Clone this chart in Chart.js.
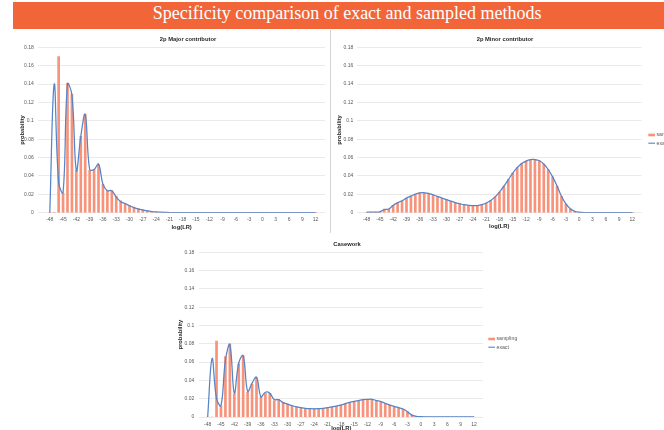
<!DOCTYPE html>
<html>
<head>
<meta charset="utf-8">
<script src="https://cdn.jsdelivr.net/npm/chart.js@4.4.1/dist/chart.umd.min.js"></script>
<style>
  html, body { margin: 0; padding: 0; width: 664px; height: 430px; overflow: hidden; background: #fff; }
  #banner { position: absolute; left: 13px; top: 2px; width: 651px; height: 27px; background: #f26538; }
  #bannerText { position: absolute; left: 152.7px; top: 3px; font-family: "Liberation Serif", "Times New Roman", serif; font-size: 18px; color: #fff; white-space: nowrap; line-height: normal; }
  #sep { position: absolute; left: 330px; top: 30px; width: 1px; height: 203px; background: #d4d4d4; }
  canvas { position: absolute; }
</style>
</head>
<body>
<div id="banner"></div>
<div id="bannerText">Specificity comparison of exact and sampled methods</div>
<div id="sep"></div>
<canvas id="c1" width="331" height="205" style="left:0px;top:30px;width:331px;height:205px"></canvas>
<canvas id="c2" width="333" height="205" style="left:331px;top:30px;width:333px;height:205px"></canvas>
<canvas id="c3" width="380" height="205" style="left:160px;top:235px;width:380px;height:205px"></canvas>
<script>
// ---------------- DATA ----------------
const logLR = [-48,-47,-46,-45,-44,-43,-42,-41,-40,-39,-38,-37,-36,-35,-34,-33,-32,-31,-30,-29,-28,-27,-26,-25,-24,-23,-22,-21,-20,-19,-18,-17,-16,-15,-14,-13,-12,-11,-10,-9,-8,-7,-6,-5,-4,-3,-2,-1,0,1,2,3,4,5,6,7,8,9,10,11,12];
const xTickValues = [-48,-45,-42,-39,-36,-33,-30,-27,-24,-21,-18,-15,-12,-9,-6,-3,0,3,6,9,12];
const yTickValues = [0,0.02,0.04,0.06,0.08,0.1,0.12,0.14,0.16,0.18];
const seriesNames = ['sampling', 'exact'];
const chartTitles = ['2p Major contributor', '2p Minor contributor', 'Casework'];

const majorSampling = [
  0, 0, 0.170, 0.021, 0.141, 0.129, 0.046, 0.083, 0.107, 0.046,
  0.047, 0.052, 0.031, 0.024, 0.024, 0.018, 0.013, 0.010, 0.008, 0.006,
  0.0045, 0.003, 0.002, 0.0013, 0.0008, 0.0005, 0.0003, 0.0002, 0.0001, 0,
  0, 0, 0, 0, 0, 0, 0, 0, 0, 0,
  0, 0, 0, 0, 0, 0, 0, 0, 0, 0,
  0, 0, 0, 0, 0, 0, 0, 0, 0, 0, 0];
const majorExact = [
  0, 0.140, 0.033, 0.022, 0.140, 0.128, 0.046, 0.083, 0.107, 0.047,
  0.047, 0.053, 0.031, 0.024, 0.024, 0.017, 0.012, 0.010, 0.0075, 0.0055,
  0.004, 0.003, 0.002, 0.0012, 0.0008, 0.0005, 0.0003, 0.0002, 0.0001, 0.0001,
  0.0001, 0.0001, 0.0001, 0, 0, 0, 0, 0, 0, 0,
  0, 0, 0, 0, 0, 0, 0, 0, 0, 0,
  0, 0, 0, 0, 0, 0, 0, 0, 0, 0, 0];

const minorSampling = [
  0, 0, 0, 0.001, 0.004, 0.004, 0.008, 0.011, 0.013, 0.016,
  0.018, 0.020, 0.0215, 0.0216, 0.021, 0.0195, 0.0178, 0.016, 0.0142, 0.0127,
  0.011, 0.0098, 0.0088, 0.008, 0.0077, 0.0078, 0.0088, 0.0105, 0.0131, 0.0172,
  0.0224, 0.029, 0.036, 0.0432, 0.049, 0.0535, 0.0563, 0.0576, 0.0577, 0.0566,
  0.0528, 0.047, 0.039, 0.029, 0.0178, 0.0095, 0.004, 0.0015, 0, 0,
  0, 0, 0, 0, 0, 0, 0, 0, 0, 0, 0];
const minorExact = [
  0.0007, 0.0007, 0.0005, 0.001, 0.0035, 0.004, 0.0082, 0.0108, 0.013, 0.016,
  0.018, 0.0202, 0.0215, 0.0217, 0.021, 0.0195, 0.0177, 0.016, 0.0143, 0.0127,
  0.011, 0.0098, 0.0087, 0.008, 0.0076, 0.0078, 0.0087, 0.0105, 0.0132, 0.0172,
  0.0225, 0.029, 0.036, 0.0432, 0.049, 0.0535, 0.0562, 0.0577, 0.0578, 0.0566,
  0.053, 0.047, 0.039, 0.029, 0.0178, 0.0095, 0.0042, 0.0015, 0.0005, 0.0002,
  0.0001, 0.0001, 0.0001, 0.0001, 0.0001, 0.0001, 0.0001, 0.0001, 0.0001, 0.0001, 0.0001];

const caseSampling = [
  0, 0, 0.083, 0.012, 0.066, 0.080, 0.025, 0.058, 0.067, 0.027,
  0.036, 0.043, 0.022, 0.026, 0.026, 0.018, 0.019, 0.016, 0.014, 0.012,
  0.011, 0.010, 0.0095, 0.009, 0.009, 0.009, 0.0095, 0.010, 0.011, 0.012,
  0.013, 0.0145, 0.016, 0.017, 0.018, 0.019, 0.0193, 0.0192, 0.018, 0.0167,
  0.015, 0.013, 0.0117, 0.010, 0.0087, 0.006, 0.002, 0.0005, 0, 0,
  0, 0, 0, 0, 0, 0, 0, 0, 0, 0, 0];
const caseExact = [
  0, 0.064, 0.020, 0.0125, 0.062, 0.079, 0.026, 0.059, 0.067, 0.028,
  0.037, 0.0435, 0.022, 0.027, 0.026, 0.019, 0.019, 0.0157, 0.014, 0.0124,
  0.011, 0.0102, 0.0095, 0.0091, 0.009, 0.0091, 0.0095, 0.0102, 0.011, 0.012,
  0.013, 0.0146, 0.016, 0.0171, 0.018, 0.019, 0.0193, 0.0193, 0.018, 0.0168,
  0.015, 0.013, 0.0117, 0.0102, 0.0087, 0.0058, 0.002, 0.0007, 0.0003, 0.0001,
  0.0001, 0.0001, 0.0001, 0.0001, 0.0001, 0.0001, 0.0001, 0.0001, 0.0001, 0.0001, 0.0001];

// ---------------- STYLE / LAYOUT ----------------
const FAMILY = '"Liberation Sans", Arial, sans-serif';
const BAR_COLOR = '#f7937a';
const LINE_COLOR = '#5584c8';
const TICK_COLOR = '#595959';
const TITLE_COLOR = '#262626';

const overlayPlugin = {
  id: 'overlay',
  afterDraw(chart, args, opts) {
    const ctx = chart.ctx;
    ctx.save();
    ctx.font = 'bold 5.8px ' + FAMILY;
    ctx.fillStyle = TITLE_COLOR;
    ctx.textAlign = 'center';
    ctx.textBaseline = 'middle';
    ctx.fillText(opts.title, opts.titleX, opts.titleY);
    if (opts.legend) {
      const ds = chart.data.datasets;
      ctx.font = '5.2px ' + FAMILY;
      ctx.textAlign = 'left';
      const lx = opts.legendX, ly = opts.legendY, gap = opts.legendGap;
      ctx.fillStyle = ds[0].backgroundColor;
      ctx.fillRect(lx, ly - 1.3, 6.7, 2.6);
      ctx.strokeStyle = ds[1].borderColor;
      ctx.lineWidth = 1.1;
      ctx.beginPath();
      ctx.moveTo(lx, ly + gap);
      ctx.lineTo(lx + 6.7, ly + gap);
      ctx.stroke();
      ctx.fillStyle = TICK_COLOR;
      ctx.fillText(ds[0].label, lx + 8.2, ly);
      ctx.fillText(ds[1].label, lx + 8.2, ly + gap);
    }
    ctx.restore();
  }
};

function makeChart(id, sampling, exact, L) {
  const toPts = arr => logLR.map((x, i) => ({x: x, y: arr[i]}));
  return new Chart(document.getElementById(id), {
    type: 'bar',
    data: {
      datasets: [
        { type: 'bar', label: seriesNames[0], data: toPts(sampling), backgroundColor: BAR_COLOR,
          barThickness: 2, order: 1 },
        { type: 'line', label: seriesNames[1], data: toPts(exact), borderColor: LINE_COLOR,
          backgroundColor: LINE_COLOR, borderWidth: 1.25, pointRadius: 0, tension: 0.4, fill: false, order: 0 }
      ]
    },
    options: {
      responsive: false,
      animation: false,
      devicePixelRatio: 1,
      layout: { autoPadding: false, padding: { left: 0, top: L.padTop, right: L.padRight, bottom: 0 } },
      plugins: {
        legend: { display: false },
        tooltip: { enabled: false },
        overlay: { title: L.title, titleX: L.titleX, titleY: L.titleY,
                   legend: L.legend, legendX: L.legendX, legendY: L.legendY, legendGap: 8.2 }
      },
      scales: {
        x: {
          type: 'linear', min: L.xMin, max: L.xMax,
          afterBuildTicks: s => { s.ticks = xTickValues.map(v => ({value: v})); },
          afterFit: s => { s.height = L.xHeight; },
          grid: { display: false, drawTicks: false },
          border: { display: false },
          ticks: { padding: 4.3, autoSkip: false, maxRotation: 0, color: TICK_COLOR,
                   font: { family: FAMILY, size: 5 }, callback: v => String(v) },
          title: { display: true, text: 'log(LR)', color: TITLE_COLOR,
                   font: { family: FAMILY, size: 5.8, weight: 'bold' },
                   padding: { top: 0, bottom: L.xTitlePad } }
        },
        y: {
          min: 0, max: 0.18,
          afterBuildTicks: s => { s.ticks = yTickValues.map(v => ({value: v})); },
          afterFit: s => { s.width = L.yWidth; },
          grid: { color: '#e4e4e4', lineWidth: 0.8, drawTicks: false },
          border: { display: false },
          ticks: { padding: L.yTickPad, color: TICK_COLOR, font: { family: FAMILY, size: 5 },
                   callback: v => String(Math.round(v * 100) / 100) },
          title: { display: true, text: 'probability', color: TITLE_COLOR,
                   font: { family: FAMILY, size: 5.8, weight: 'bold' },
                   padding: { top: L.yTitlePad, bottom: 0 } }
        }
      }
    },
    plugins: [overlayPlugin]
  });
}

makeChart('c1', majorSampling, majorExact, {
  title: chartTitles[0], titleX: 188, titleY: 9.3, legend: false,
  xMin: -49.05, xMax: 12.58, padTop: 17.3, padRight: 6, xHeight: 22.3, yWidth: 38.3,
  xTitlePad: 4.3, yTitlePad: 19, yTickPad: 4.6
});
makeChart('c2', minorSampling, minorExact, {
  title: chartTitles[1], titleX: 174, titleY: 9.3, legend: true, legendX: 317.3, legendY: 105,
  xMin: -48.71, xMax: 12.58, padTop: 17.3, padRight: 22.3, xHeight: 22.3, yWidth: 25.7,
  xTitlePad: 5, yTitlePad: 4.5, yTickPad: 3.4
});
makeChart('c3', caseSampling, caseExact, {
  title: chartTitles[2], titleX: 187, titleY: 9, legend: true, legendX: 328.3, legendY: 104,
  xMin: -48.36, xMax: 12.56, padTop: 17.3, padRight: 56.7, xHeight: 23, yWidth: 39.3,
  xTitlePad: 8.3, yTitlePad: 17, yTickPad: 5
});
</script>
</body>
</html>
